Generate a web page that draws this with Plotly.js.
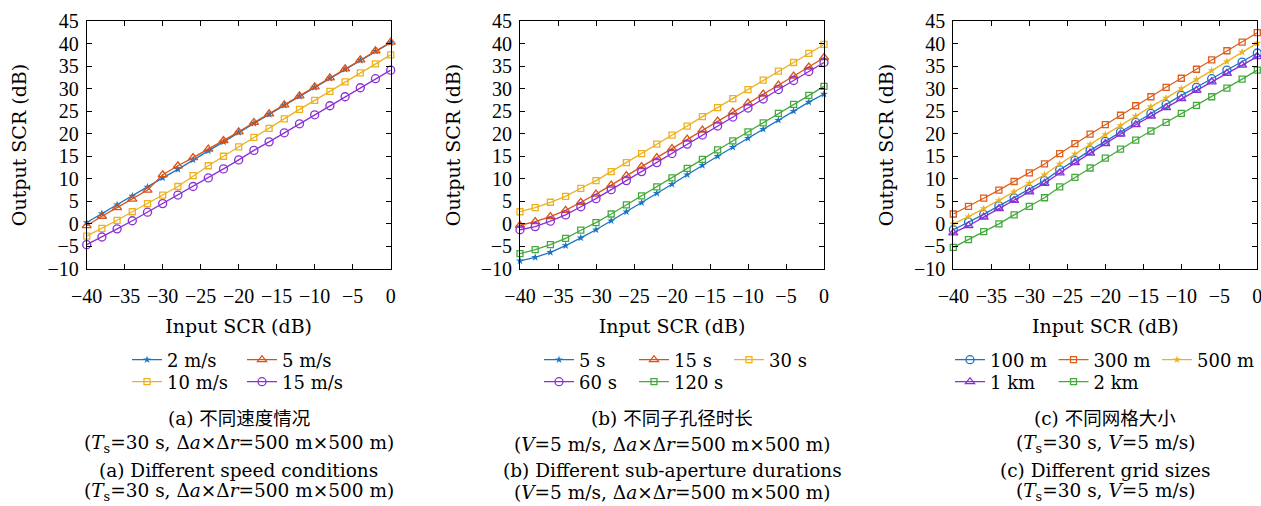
<!DOCTYPE html>
<html>
<head>
<meta charset="utf-8">
<script src="https://cdn.plot.ly/plotly-3.0.1.min.js"></script>
<style>html,body{margin:0;padding:0;background:#fff;}#chart{width:1261px;height:506px;}</style>
</head>
<body>
<div id="chart"></div>
<script>
// ---------- data ----------
const inputSCR = [-40,-38,-36,-34,-32,-30,-28,-26,-24,-22,-20,-18,-16,-14,-12,-10,-8,-6,-4,-2,0];

// (a) different speeds
const speedNames = ["2 m/s", "5 m/s", "10 m/s", "15 m/s"];
const a_2ms  = [0.3,2.3,4.25,6.2,8.2,10.2,12.1,14.2,16.2,18.2,20.3,22.3,24.3,26.3,28.3,30.3,32.3,34.3,36.3,38.3,40.2];
const a_5ms  = [-0.4,1.7,3.6,5.5,7.5,10.9,12.9,14.7,16.6,18.5,20.4,22.5,24.4,26.4,28.4,30.4,32.4,34.4,36.4,38.4,40.3];
const a_10ms = [-2.7,-1.0,0.8,2.7,4.5,6.4,8.3,10.7,12.9,15.0,17.1,19.2,21.2,23.3,25.4,27.4,29.4,31.5,33.5,35.5,37.5];
const a_15ms = [-4.6,-2.9,-1.1,0.7,2.6,4.5,6.4,8.3,10.2,12.2,14.2,16.3,18.2,20.2,22.2,24.2,26.2,28.2,30.2,32.2,34.1];

// (b) different sub-aperture durations
const durNames = ["5 s", "15 s", "30 s", "60 s", "120 s"];
const b_5s   = [-8.2,-7.4,-6.3,-4.8,-3.1,-1.3,0.7,2.7,4.7,6.8,8.8,10.9,13.0,15.0,17.0,19.0,21.0,23.0,25.0,27.0,28.8];
const b_15s  = [-0.3,0.5,1.6,3.0,4.8,6.6,8.6,10.7,12.7,14.7,16.7,18.8,20.8,22.8,24.8,26.8,28.8,30.8,32.8,34.8,36.9];
const b_30s  = [2.7,3.6,4.8,6.1,7.9,9.6,11.6,13.6,15.6,17.7,19.7,21.7,23.8,25.8,27.8,29.8,31.9,33.9,35.8,37.8,39.8];
const b_60s  = [-1.3,-0.6,0.6,2.0,3.8,5.6,7.6,9.6,11.6,13.6,15.6,17.7,19.7,21.7,23.7,25.7,27.7,29.8,31.8,33.8,35.8];
const b_120s = [-6.6,-5.7,-4.6,-3.2,-1.4,0.3,2.2,4.2,6.2,8.2,10.2,12.3,14.3,16.4,18.4,20.4,22.4,24.5,26.5,28.5,30.5];

// (c) different grid sizes
const gridNames = ["100 m", "300 m", "500 m", "1 km", "2 km"];
const c_100m = [-1.3,0.4,2.1,4.0,5.8,7.7,9.6,12.0,14.1,16.3,18.3,20.4,22.5,24.5,26.5,28.5,30.3,32.2,34.1,35.9,37.9];
const c_300m = [2.2,3.9,5.7,7.5,9.4,11.3,13.3,15.6,17.8,19.9,22.0,24.1,26.2,28.2,30.3,32.3,34.3,36.4,38.4,40.3,42.4];
const c_500m = [0.0,1.6,3.4,5.2,7.1,9.0,10.9,13.3,15.5,17.6,19.8,21.8,23.9,26.0,27.9,30.0,32.0,34.0,36.0,38.1,40.1];
const c_1km  = [-2.0,-0.4,1.5,3.4,5.2,7.1,9.0,11.3,13.6,15.7,17.8,19.9,22.0,23.9,25.8,27.8,29.6,31.5,33.4,35.2,37.1];
const c_2km  = [-5.2,-3.5,-1.7,0.0,2.0,3.9,5.8,8.2,10.3,12.4,14.6,16.6,18.6,20.6,22.5,24.5,26.3,28.2,30.1,32.1,34.1];

const xTitle = "Input SCR (dB)";
const yTitle = "Output SCR (dB)";
const captions = [
  ["(a) 不同速度情况", "(<i>T</i><sub>s</sub>=30 s, Δ<i>a</i>×Δ<i>r</i>=500 m×500 m)", "(a) Different speed conditions", "(<i>T</i><sub>s</sub>=30 s, Δ<i>a</i>×Δ<i>r</i>=500 m×500 m)"],
  ["(b) 不同子孔径时长", "(<i>V</i>=5 m/s, Δ<i>a</i>×Δ<i>r</i>=500 m×500 m)", "(b) Different sub-aperture durations", "(<i>V</i>=5 m/s, Δ<i>a</i>×Δ<i>r</i>=500 m×500 m)"],
  ["(c) 不同网格大小", "(<i>T</i><sub>s</sub>=30 s, <i>V</i>=5 m/s)", "(c) Different grid sizes", "(<i>T</i><sub>s</sub>=30 s, <i>V</i>=5 m/s)"]
];

// ---------- styles ----------
const TICKFONT = "'Liberation Serif', serif";
const FONT = "'DejaVu Serif', 'Noto Sans CJK SC', serif";
const C_BLUE = "#1B74C4", C_ORANGE = "#D95319", C_YEL = "#EDB120", C_PUR = "#8B2FD6", C_GRN = "#44AA3C", C_ORANGE3 = "#DE5E1C";
const W = 1261, H = 506, MT = 21, MB = 237;
const plotH = H - MT - MB;
const doms = [[86.7, 390.7], [520, 824], [953.3, 1257.3]];
function px2x(p) { return p / W; }
function py2y(p) { return (H - MB - p) / plotH; }

function tr(y, name, color, symbol, size, ax, legend) {
  const open = symbol.indexOf("open") >= 0;
  return {
    x: inputSCR, y: y, name: name, type: "scatter", mode: "lines+markers",
    xaxis: "x" + (ax === 1 ? "" : ax), yaxis: "y" + (ax === 1 ? "" : ax),
    legend: legend, cliponaxis: false,
    line: {color: color, width: 1.3},
    marker: {symbol: symbol, size: size, color: color, line: {color: color, width: open ? 1.3 : 0}}
  };
}

const data = [
  tr(a_2ms,  speedNames[0], C_BLUE,   "star", 6, 1, "legend"),
  tr(a_5ms,  speedNames[1], C_ORANGE, "triangle-up-open", 8, 1, "legend"),
  tr(a_10ms, speedNames[2], C_YEL,    "square-open", 6, 1, "legend2"),
  tr(a_15ms, speedNames[3], C_PUR,    "circle-open", 8, 1, "legend2"),

  tr(b_5s,   durNames[0], C_BLUE,   "star", 6, 2, "legend3"),
  tr(b_15s,  durNames[1], C_ORANGE, "triangle-up-open", 8, 2, "legend3"),
  tr(b_30s,  durNames[2], C_YEL,    "square-open", 6, 2, "legend3"),
  tr(b_60s,  durNames[3], C_PUR,    "circle-open", 8, 2, "legend4"),
  tr(b_120s, durNames[4], C_GRN,    "square-open", 6, 2, "legend4"),

  tr(c_100m, gridNames[0], C_BLUE,    "circle-open", 8, 3, "legend5"),
  tr(c_300m, gridNames[1], C_ORANGE3, "square-open", 6, 3, "legend5"),
  tr(c_500m, gridNames[2], C_YEL,     "star", 6, 3, "legend5"),
  tr(c_1km,  gridNames[3], C_PUR,     "triangle-up-open", 8, 3, "legend6"),
  tr(c_2km,  gridNames[4], C_GRN,     "square-open", 6, 3, "legend6")
];

function xax(i) {
  return {
    domain: [px2x(doms[i][0]), px2x(doms[i][1])], anchor: "y" + (i === 0 ? "" : i + 1),
    range: [-40, 0], tick0: 0, dtick: 5, ticks: "inside", ticklen: 5, tickwidth: 1, tickcolor: "#000",
    showline: true, linecolor: "#000", linewidth: 1, mirror: "ticks", showgrid: false, zeroline: false,
    tickfont: {family: TICKFONT, size: 20, color: "#000"}, ticklabelstandoff: 9, ticklabeloverflow: "allow",
    title: {text: xTitle, font: {family: FONT, size: 19, color: "#000"}, standoff: 13}
  };
}
function yax(i) {
  return {
    domain: [0, 1], anchor: "x" + (i === 0 ? "" : i + 1),
    range: [-10, 45], tick0: 0, dtick: 5, ticks: "inside", ticklen: 5, tickwidth: 1, tickcolor: "#000",
    showline: true, linecolor: "#000", linewidth: 1, mirror: "ticks", showgrid: false, zeroline: false,
    tickfont: {family: TICKFONT, size: 20, color: "#000"}, ticklabelstandoff: 3, ticklabeloverflow: "allow",
    title: {text: yTitle, font: {family: FONT, size: 19, color: "#000"}, standoff: 15}
  };
}
function leg(xp, yp, ew) {
  return {
    x: px2x(xp), y: py2y(yp), xanchor: "left", yanchor: "middle", orientation: "h",
    entrywidth: ew, entrywidthmode: "pixels", bgcolor: "rgba(0,0,0,0)", borderwidth: 0,
    font: {family: FONT, size: 18, color: "#000"}, itemclick: false, tracegroupgap: 0
  };
}

const annotations = [];
const capY = [418, 444, 470, 492];
captions.forEach((lines, i) => {
  const cx = (doms[i][0] + doms[i][1]) / 2;
  lines.forEach((t, j) => {
    annotations.push({text: t, xref: "paper", yref: "paper", x: px2x(cx), y: py2y(capY[j]),
      xanchor: "center", yanchor: "middle", showarrow: false, font: {family: FONT, size: 18.5, color: "#000"}});
  });
});

const layout = {
  width: W, height: H, paper_bgcolor: "#fff", plot_bgcolor: "#fff",
  margin: {l: 0, r: 0, t: MT, b: MB, autoexpand: false},
  showlegend: true,
  xaxis: xax(0), xaxis2: xax(1), xaxis3: xax(2),
  yaxis: yax(0), yaxis2: yax(1), yaxis3: yax(2),
  legend:  leg(127, 360, 70),
  legend2: leg(127, 382, 70),
  legend3: leg(539, 360, 50),
  legend4: leg(539, 382, 50),
  legend5: leg(950, 360, 58.5),
  legend6: leg(950, 382, 58.5),
  annotations: annotations
};

Plotly.newPlot("chart", data, layout, {staticPlot: true, displayModeBar: false});
</script>
</body>
</html>
